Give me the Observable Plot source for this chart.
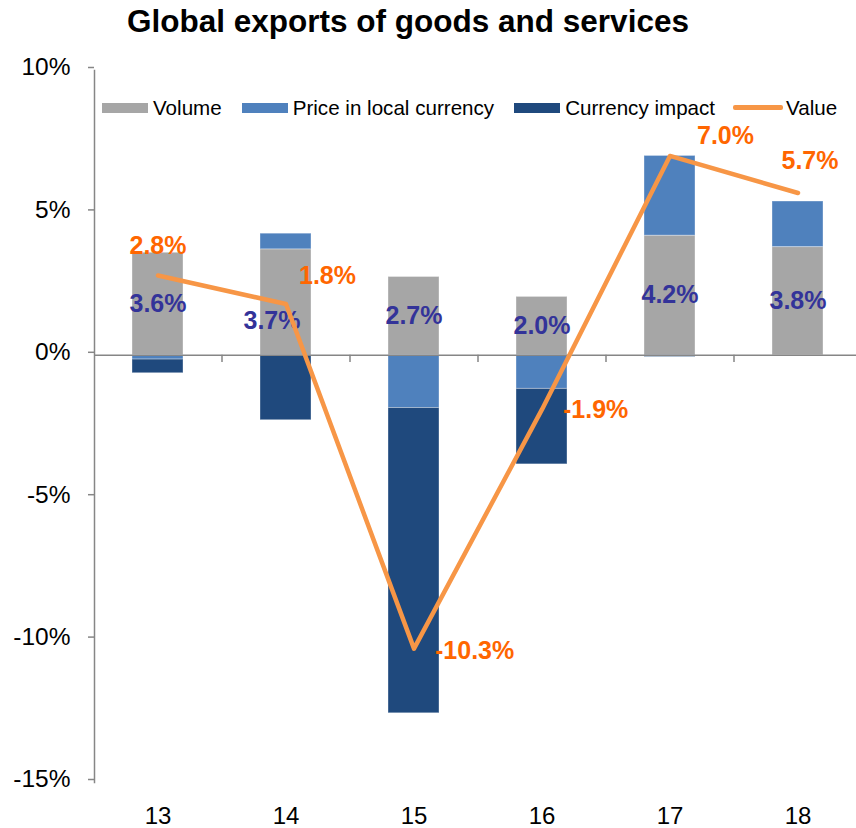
<!DOCTYPE html>
<html>
<head>
<meta charset="utf-8">
<script src="https://cdn.jsdelivr.net/npm/d3@7"></script>
<script src="https://cdn.jsdelivr.net/npm/@observablehq/plot@0.6"></script>
<style>
  html, body { margin: 0; padding: 0; background: #fff; }
  #wrap { position: relative; width: 856px; height: 828px; overflow: hidden; font-family: "Liberation Sans", Arial, sans-serif; }
  #title { position: absolute; left: 0; top: 0; width: 816px; height: 42px; line-height: 42px; text-align: center; font-weight: bold; font-size: 31.5px; color: #000; }
  #chart { position: absolute; left: 0; top: 44px; }
  #legend { position: absolute; left: 102px; top: 97px; height: 21px; display: flex; align-items: center; font-size: 20.6px; color: #000; white-space: nowrap; }
  .item { display: flex; align-items: center; margin-right: 20px; }
  .sw { width: 46px; height: 10px; margin-right: 5px; }
  .ln { width: 50px; height: 4.5px; border-radius: 2px; margin-right: 3px; }
</style>
</head>
<body>
<div id="wrap">
  <div id="title">Global exports of goods and services</div>
  <div id="chart"></div>
  <div id="legend"></div>
</div>
<script>
// ---- data ----
const years = ["13", "14", "15", "16", "17", "18"];
const volume = [3.6, 3.72, 2.75, 2.05, 4.2, 3.8];
const price = [-0.15, 0.55, -1.85, -1.18, 2.8, 1.6];
const currency = [-0.48, -2.28, -10.72, -2.65, -0.06, 0];
const value = [2.8, 1.8, -10.3, -1.9, 7.0, 5.7];
const volumeLabels = ["3.6%", "3.7%", "2.7%", "2.0%", "4.2%", "3.8%"];
const valueLabels = ["2.8%", "1.8%", "-10.3%", "-1.9%", "7.0%", "5.7%"];
const yTicks = [-15, -10, -5, 0, 5, 10];
const seriesNames = ["Volume", "Price in local currency", "Currency impact"];
const seriesColors = ["#A6A6A6", "#4F81BD", "#1F497D"];
const lineName = "Value";
const lineColor = "#F79646";

// label offsets (dx, dy, anchor) – style only
const valueLabelOffsets = [[0, -30, "middle"], [13, -28, "start"], [21, 2, "start"], [21, 1, "start"], [27, -20, "start"], [12, -32, "middle"]];
const volumeLabelOffsets = [[0, 0], [-14, 19], [0, 0], [0, 0], [0, 0], [0, 0]];

// ---- build tables ----
const rows = years.flatMap((yr, i) => [
  {year: yr, series: seriesNames[0], v: volume[i]},
  {year: yr, series: seriesNames[1], v: price[i]},
  {year: yr, series: seriesNames[2], v: currency[i]}
]);
const valueRows = years.map((yr, i) => ({year: yr, value: value[i], label: valueLabels[i]}));
const volRows = years.map((yr, i) => ({year: yr, mid: volume[i] / 2, label: volumeLabels[i]}));

const axisGray = "#868686";
const font = "'Liberation Sans', Arial, sans-serif";

const marks = [
  Plot.barY(rows, {x: "year", y: "v", fill: "series", stroke: "#ffffff", strokeOpacity: 0.35, strokeWidth: 1}),
  Plot.ruleY([0], {stroke: axisGray, strokeWidth: 1.5}),
  Plot.ruleX(years.slice(1), {x: d => d, y1: 0, y2: -0.25, dx: -64, stroke: axisGray, strokeWidth: 1.5}),
  Plot.frame({anchor: "left", stroke: axisGray, strokeWidth: 1.5}),
  Plot.axisY({ticks: yTicks, tickFormat: d => d + "%", tickSize: 6, tickPadding: 18, fontSize: 24.5, stroke: axisGray, strokeWidth: 1.5, fill: "#000", dy: -3, label: null}),
  Plot.axisX({tickSize: 0, tickPadding: 24, fontSize: 24, fill: "#000", label: null}),
  ...volRows.map((d, i) => Plot.text([d], {x: "year", y: "mid", text: "label", dx: volumeLabelOffsets[i][0], dy: volumeLabelOffsets[i][1], fill: "#333399", fontSize: 25, fontWeight: "bold"})),
  Plot.line(valueRows, {x: "year", y: "value", stroke: lineColor, strokeWidth: 4.5, strokeLinejoin: "round", strokeLinecap: "round"}),
  ...valueRows.map((d, i) => Plot.text([d], {x: "year", y: "value", text: "label", dx: valueLabelOffsets[i][0], dy: valueLabelOffsets[i][1], textAnchor: valueLabelOffsets[i][2], fill: "#FF6600", fontSize: 25, fontWeight: "bold"}))
];

const chart = Plot.plot({
  width: 856,
  height: 784,
  marginLeft: 94,
  marginRight: -6,
  marginTop: 26,
  marginBottom: 46,
  style: {fontFamily: font, background: "#fff", overflow: "hidden"},
  x: {domain: years, paddingInner: 0.6, paddingOuter: 0.3},
  y: {domain: [-15, 10]},
  color: {domain: seriesNames, range: seriesColors},
  marks
});
document.getElementById("chart").appendChild(chart);

// ---- legend ----
const legend = document.getElementById("legend");
seriesNames.forEach((name, i) => {
  const it = document.createElement("div");
  it.className = "item";
  it.innerHTML = `<div class="sw" style="background:${seriesColors[i]}"></div><span>${name}</span>`;
  legend.appendChild(it);
});
const li = document.createElement("div");
li.className = "item";
li.style.marginLeft = "-2px";
li.innerHTML = `<div class="ln" style="background:${lineColor}"></div><span>${lineName}</span>`;
legend.appendChild(li);
</script>
</body>
</html>
